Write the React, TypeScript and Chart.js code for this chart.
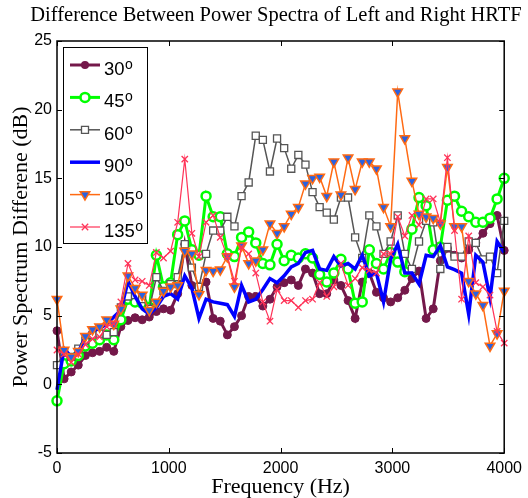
import React, { useEffect, useRef } from 'react';
import { Chart, registerables } from 'chart.js';

Chart.register(...registerables);

const TITLE = 'Difference Between Power Spectra of Left and Right HRTF';
const X_TITLE = 'Frequency (Hz)';
const Y_TITLE = 'Power Spectrum Differene (dB)';
const ANGLES = ['30', '45', '60', '90', '105', '135'];
const X_TICKS = [0, 1000, 2000, 3000, 4000];
const Y_TICKS = [-5, 0, 5, 10, 15, 20, 25];
const N_BINS = 64;
const BIN_HZ = 4000 / 63;
const FREQS = Array.from({ length: N_BINS }, (_, i) => i * BIN_HZ);

const S30 = [3.9, 0.4, 0.9, 1.4, 2.1, 2.3, 2.4, 2.7, 2.4, 4.2,
  4.65, 4.85, 4.7, 4.9, 5.3, 5.5, 5.4, 6.6, 10.2, 7.2,
  7.1, 7.45, 4.8, 4.6, 3.6, 4.2, 5.0, 6.4, 6.4, 5.7,
  6.2, 7.1, 7.4, 7.6, 7.2, 8.4, 8.1, 6.6, 6.6, 7.6,
  7.2, 6.1, 4.8, 7.45, 8.1, 6.7, 6.3, 6.0, 6.3, 6.85,
  7.7, 8.25, 4.8, 5.5, 9.0, 9.9, 9.4, 9.2, 9.8, 10.3,
  11.0, 11.7, 12.3, 9.75];
const S45 = [-1.2, 1.5, 1.7, 2.1, 2.8, 3.0, 3.25, 3.6, 3.25, 4.7,
  6.2, 6.0, 5.9, 5.6, 9.4, 7.1, 7.4, 10.9, 11.9, 9.8,
  9.4, 13.7, 12.2, 12.2, 9.5, 9.3, 10.7, 11.1, 10.3, 8.8,
  8.7, 10.2, 9.0, 9.4, 9.2, 9.5, 9.2, 8.0, 7.45, 8.1,
  9.1, 8.4, 5.9, 6.0, 9.8, 8.8, 8.4, 9.6, 8.9, 8.2,
  11.3, 13.6, 13.0, 9.8, 10.0, 13.4, 13.7, 12.6, 12.2, 11.8,
  11.8, 12.1, 13.5, 15.0];
const S60 = [1.4, 2.3, 2.0, 2.6, 3.2, 3.6, 3.7, 3.6, 3.8, 5.6,
  6.4, 6.5, 6.2, 5.5, 7.8, 6.8, 7.3, 7.8, 10.2, 8.5,
  7.1, 9.5, 11.2, 11.2, 12.2, 11.5, 13.7, 14.7, 18.1, 17.8,
  15.5, 17.9, 17.2, 15.7, 16.7, 16.0, 14.0, 12.9, 12.5, 12.0,
  13.6, 13.6, 10.7, 9.2, 12.3, 11.5, 9.5, 10.4, 12.3, 9.5,
  8.4, 10.4, 11.9, 11.8, 8.4, 10.0, 9.3, 9.3, 10.4, 10.3,
  9.1, 9.3, 8.1, 11.9];
const S90 = [-0.4, 2.6, 2.0, 2.35, 3.45, 3.9, 4.05, 4.4, 4.9, 5.4,
  7.5, 6.4, 5.5, 5.1, 5.6, 6.4, 6.6, 6.2, 7.9, 7.0,
  4.8, 6.2, 6.0, 5.9, 5.8, 4.95, 7.2, 6.0, 6.2, 6.9,
  7.7, 7.4, 7.9, 8.55, 8.8, 9.6, 9.75, 8.4, 8.3, 9.3,
  8.6, 8.8, 8.4, 9.4, 7.9, 8.1, 6.0, 9.1, 10.2, 8.1,
  8.1, 7.3, 9.4, 9.3, 10.1, 8.55, 8.35, 8.1, 5.1, 9.4,
  8.9, 6.3, 10.4, 9.6];
const S105 = [6.2, 2.5, 2.0, 2.4, 3.5, 4.0, 4.2, 4.7, 4.4, 5.5,
  7.9, 7.0, 6.5, 5.4, 6.0, 6.8, 7.1, 7.2, 9.7, 9.5,
  6.55, 8.3, 8.25, 8.35, 9.3, 7.1, 10.1, 8.8, 9.0, 9.8,
  11.7, 11.0, 11.5, 12.4, 12.9, 14.6, 15.0, 15.1, 13.7, 16.2,
  13.8, 16.5, 14.2, 16.2, 16.2, 15.7, 12.9, 11.5, 21.3, 17.9,
  14.8, 12.4, 12.2, 12.1, 11.7, 15.8, 11.5, 11.5, 7.5, 6.6,
  5.75, 2.8, 3.7, 6.8];
const S135 = [2.5, 2.2, 1.6, 2.2, 2.9, 3.3, 3.45, 4.2, 4.4, 6.0,
  8.8, 7.6, 7.5, 7.2, 9.6, 9.2, 9.7, 11.8, 16.4, 11.0,
  9.3, 11.8, 12.3, 10.7, 9.3, 7.5, 10.0, 9.5, 8.1, 6.0,
  4.6, 6.9, 6.1, 6.1, 5.6, 6.1, 6.2, 7.4, 6.4, 7.1,
  8.8, 7.2, 7.7, 8.5, 8.3, 8.1, 9.5, 9.5, 12.2, 10.8,
  12.3, 11.6, 13.5, 13.5, 11.8, 16.5, 11.2, 6.2, 10.8, 7.4,
  7.1, 6.5, 3.85, 3.0];

const SERIES = [S30, S45, S60, S90, S105, S135];

const C30 = '#74184a';
const C45 = '#00ff00';
const C60 = '#555555';
const C90 = '#0000ff';
const C105 = '#ff6a13';
const C105F = '#2a62e0';
const C135 = '#ff3358';

const SERIF = '"Liberation Serif", "Times New Roman", serif';
const SANS = '"Liberation Sans", Arial, sans-serif';

const STYLES = [
  { color: C30, width: 3, pointStyle: 'circle', radius: 4, fill: C30, pbw: 1 },
  { color: C45, width: 3, pointStyle: 'circle', radius: 4.5, fill: '#ffffff', pbw: 2.5 },
  { color: C60, width: 1.5, pointStyle: 'rect', radius: 5, fill: '#ffffff', pbw: 1.3 },
  { color: C90, width: 3.5, pointStyle: false, radius: 0, fill: C90, pbw: 0 },
  { color: C105, width: 1.5, pointStyle: 'triangle', radius: 5.5, fill: C105F, pbw: 1.5, rot: 180 },
  { color: C135, width: 1.2, pointStyle: 'crossRot', radius: 4.5, fill: C135, pbw: 1.3 },
];

function legendMarker(ctx: CanvasRenderingContext2D, k: number, x: number, y: number) {
  ctx.save();
  if (k === 0) {
    ctx.fillStyle = C30;
    ctx.beginPath(); ctx.arc(x, y, 4, 0, Math.PI * 2); ctx.fill();
  } else if (k === 1) {
    ctx.fillStyle = '#fff'; ctx.strokeStyle = C45; ctx.lineWidth = 2.5;
    ctx.beginPath(); ctx.arc(x, y, 4.5, 0, Math.PI * 2); ctx.fill(); ctx.stroke();
  } else if (k === 2) {
    ctx.fillStyle = '#fff'; ctx.strokeStyle = C60; ctx.lineWidth = 1.3;
    ctx.beginPath(); ctx.rect(x - 3.5, y - 3.5, 7, 7); ctx.fill(); ctx.stroke();
  } else if (k === 4) {
    const r = 5.5;
    ctx.fillStyle = C105F; ctx.strokeStyle = C105; ctx.lineWidth = 1.5;
    ctx.beginPath();
    ctx.moveTo(x, y + r);
    ctx.lineTo(x - r * 0.866, y - r / 2);
    ctx.lineTo(x + r * 0.866, y - r / 2);
    ctx.closePath(); ctx.fill(); ctx.stroke();
  } else if (k === 5) {
    const r = 3.2;
    ctx.strokeStyle = C135; ctx.lineWidth = 1.3;
    ctx.beginPath();
    ctx.moveTo(x - r, y - r); ctx.lineTo(x + r, y + r);
    ctx.moveTo(x - r, y + r); ctx.lineTo(x + r, y - r);
    ctx.stroke();
  }
  ctx.restore();
}

const framePlugin = {
  id: 'matlabFrame',
  afterDraw(chart: any) {
    const { ctx, chartArea: a, scales } = chart;
    ctx.save();
    // title
    ctx.fillStyle = '#000';
    ctx.font = `20.5px ${SERIF}`;
    ctx.textAlign = 'center';
    ctx.textBaseline = 'alphabetic';
    ctx.fillText(TITLE, 276, 21);

    // frame
    ctx.strokeStyle = '#000';
    ctx.lineWidth = 1.5;
    ctx.strokeRect(a.left, a.top, a.right - a.left, a.bottom - a.top);
    ctx.lineWidth = 1;
    ctx.beginPath();
    for (const v of X_TICKS) {
      const px = Math.round(scales.x.getPixelForValue(v)) + 0.5;
      ctx.moveTo(px, a.bottom); ctx.lineTo(px, a.bottom - 5);
      ctx.moveTo(px, a.top); ctx.lineTo(px, a.top + 5);
    }
    for (const v of Y_TICKS) {
      const py = Math.round(scales.y.getPixelForValue(v)) + 0.5;
      ctx.moveTo(a.left, py); ctx.lineTo(a.left + 5, py);
      ctx.moveTo(a.right, py); ctx.lineTo(a.right - 5, py);
    }
    ctx.stroke();

    // legend
    const bx = a.left + 6, by = a.top + 6, bw = 84, bh = 196;
    ctx.fillStyle = '#fff';
    ctx.fillRect(bx, by, bw, bh);
    ctx.strokeStyle = '#000';
    ctx.lineWidth = 1;
    ctx.strokeRect(Math.round(bx) + 0.5, Math.round(by) + 0.5, bw, bh);
    ANGLES.forEach((ang, k) => {
      const st = STYLES[k];
      const y = by + 18 + k * 32.4;
      ctx.strokeStyle = st.color;
      ctx.lineWidth = st.width;
      ctx.beginPath(); ctx.moveTo(bx + 7, y); ctx.lineTo(bx + 37, y); ctx.stroke();
      legendMarker(ctx, k, bx + 22, y);
      ctx.fillStyle = '#000';
      ctx.textAlign = 'left';
      ctx.textBaseline = 'alphabetic';
      ctx.font = `18.5px ${SANS}`;
      ctx.fillText(ang, bx + 41, y + 10);
      const w = ctx.measureText(ang).width;
      ctx.font = `14px ${SANS}`;
      ctx.fillText('o', bx + 41 + w + 0.5, y + 4);
    });
    ctx.restore();
  },
};

export default function App() {
  const ref = useRef<HTMLCanvasElement>(null);
  useEffect(() => {
    if (!ref.current) return;
    const datasets = SERIES.map((vals, k) => {
      const st: any = STYLES[k];
      return {
        label: ANGLES[k] + '°',
        data: vals.map((v, i) => ({ x: FREQS[i], y: v })),
        borderColor: st.color,
        borderWidth: st.width,
        backgroundColor: st.fill,
        pointStyle: st.pointStyle,
        pointRadius: st.radius,
        pointBackgroundColor: st.fill,
        pointBorderColor: st.color,
        pointBorderWidth: st.pbw,
        pointRotation: st.rot || 0,
        tension: 0,
        fill: false,
        clip: false,
        order: 6 - k,
      };
    });
    const chart = new Chart(ref.current, {
      type: 'line',
      data: { datasets },
      options: {
        responsive: false,
        animation: false,
        devicePixelRatio: 1,
        layout: { padding: { left: 0, right: 23, top: 41, bottom: 0 } },
        plugins: {
          legend: { display: false },
          title: { display: false },
          tooltip: { enabled: false },
        },
        scales: {
          x: {
            type: 'linear',
            min: 0,
            max: 4000,
            grid: { display: false, drawTicks: false },
            border: { display: false },
            ticks: {
              stepSize: 1000,
              padding: 6,
              color: '#000',
              maxRotation: 0,
              font: { family: SANS, size: 16 },
              callback: (v: any) => String(v),
            },
            title: {
              display: true,
              text: X_TITLE,
              color: '#000',
              font: { family: SERIF, size: 22 },
              padding: { top: 0, bottom: -2 },
            },
            afterFit: (s: any) => { s.height = 45; },
          },
          y: {
            type: 'linear',
            min: -5,
            max: 25,
            grid: { display: false, drawTicks: false },
            border: { display: false },
            ticks: {
              stepSize: 5,
              padding: 5,
              color: '#000',
              font: { family: SANS, size: 16 },
              callback: (v: any) => String(v),
            },
            title: {
              display: true,
              text: Y_TITLE,
              color: '#000',
              font: { family: SERIF, size: 22 },
              padding: { top: 8, bottom: 0 },
            },
            afterFit: (s: any) => { s.width = 57; },
          },
        },
      },
      plugins: [framePlugin],
    } as any);
    return () => chart.destroy();
  }, []);
  return (
    <div style={{ position: 'fixed', left: 0, top: 0, width: 528, height: 498, background: '#fff' }}>
      <canvas ref={ref} width={528} height={498} style={{ width: 528, height: 498, display: 'block' }} />
    </div>
  );
}
